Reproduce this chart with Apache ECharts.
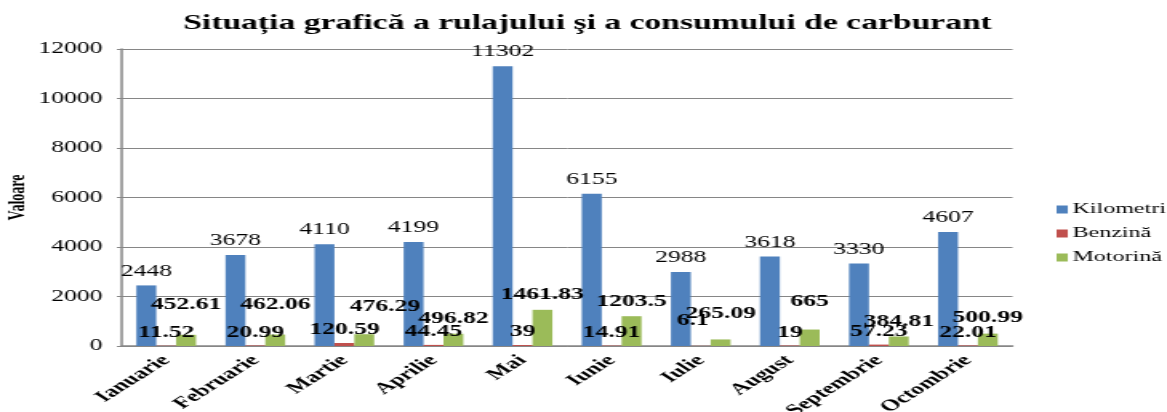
<!DOCTYPE html>
<html>
<head>
<meta charset="utf-8">
<script src="https://cdn.jsdelivr.net/npm/echarts@6/dist/echarts.min.js"></script>
<style>
  html, body { margin: 0; padding: 0; overflow: hidden; background: #fff; }
  /* the reference is a horizontally stretched picture, so the chart is drawn narrow and stretched */
  #chart { width: 729px; height: 412px; transform: scaleX(1.6008); transform-origin: 0 0; }
</style>
</head>
<body>
<div id="chart"></div>
<script>
// date
const months = ["Ianuarie", "Februarie", "Martie", "Aprilie", "Mai", "Iunie", "Iulie", "August", "Septembrie", "Octombrie"];
const kilometri = [2448, 3678, 4110, 4199, 11302, 6155, 2988, 3618, 3330, 4607];
const benzina = [11.52, 20.99, 120.59, 44.45, 39, 14.91, 6.1, 19, 57.23, 22.01];
const motorina = [452.61, 462.06, 476.29, 496.82, 1461.83, 1203.5, 265.09, 665, 384.81, 500.99];
const yMin = 0;
const yMax = 12000;
const yStep = 2000;

// deplasari etichete (mutate manual in original)
const motorinaLabelShift = [[0, -17], [0, -17], [13, -14], [0, -2], [0, -2], [0, -1], [0, -13], [0, -15], [0, -2], [0, -3]];
const benzinaLabelShift = [[0, 0], [0, 0], [0, 0], [0, 0], [0, 0], [0, 0], [-5, -12], [0, 0], [0, 0], [0, 0]];

const serif = "'Liberation Serif', 'DejaVu Serif', serif";

const withShift = (values, shifts) =>
  values.map((v, i) => ({ value: v, label: { offset: shifts[i] } }));

const chart = echarts.init(document.getElementById("chart"));

const option = {
  animation: false,
  color: ["#4F81BD", "#C0504D", "#9BBB59"],
  title: {
    text: "Situația grafică a rulajului şi a consumului de carburant",
    left: 362,
    textAlign: "center",
    top: 8,
    textStyle: {
      fontFamily: serif,
      fontWeight: "bold",
      fontSize: 21,
      color: "#000",
    },
  },
  legend: {
    orient: "vertical",
    left: 655,
    top: 197,
    itemWidth: 7,
    itemHeight: 8,
    itemGap: 9,
    icon: "rect",
    textStyle: {
      fontFamily: serif,
      fontSize: 15,
      color: "#000",
      padding: [0, 0, 0, -2],
    },
    data: ["Kilometri", "Benzină", "Motorină"],
  },
  grid: {
    left: 76,
    right: 96.5,
    top: 49,
    bottom: 66,
    outerBoundsMode: "none",
  },
  xAxis: {
    type: "category",
    data: months,
    axisTick: { show: false },
    axisLine: { lineStyle: { color: "#868686", width: 1.5 } },
    axisLabel: {
      rotate: 45,
      interval: 0,
      margin: 12,
      fontFamily: serif,
      fontWeight: "bold",
      fontSize: 16,
      color: "#000",
    },
  },
  yAxis: {
    type: "value",
    min: yMin,
    max: yMax,
    interval: yStep,
    name: "Valoare",
    nameLocation: "middle",
    nameGap: 58,
    nameMoveOverlap: false,
    nameTextStyle: {
      fontFamily: serif,
      fontWeight: "bold",
      fontSize: 14,
      color: "#000",
    },
    axisLine: { show: true, lineStyle: { color: "#868686", width: 1.5 } },
    axisTick: { show: true, length: 3, lineStyle: { color: "#868686" } },
    axisLabel: {
      margin: 12,
      fontFamily: serif,
      fontSize: 16,
      color: "#000",
      formatter: (v) => String(v),
    },
    splitLine: { lineStyle: { color: "#868686", width: 1 } },
  },
  series: [
    {
      name: "Kilometri",
      type: "bar",
      data: kilometri,
      barGap: "0%",
      barCategoryGap: "33%",
      label: {
        show: true,
        position: "top",
        distance: 6,
        fontFamily: serif,
        fontSize: 16,
        color: "#000",
      },
    },
    {
      name: "Benzină",
      type: "bar",
      data: withShift(benzina, benzinaLabelShift),
      label: {
        show: true,
        position: "top",
        distance: 5,
        fontFamily: serif,
        fontWeight: "bold",
        fontSize: 16,
        color: "#000",
      },
    },
    {
      name: "Motorină",
      type: "bar",
      data: withShift(motorina, motorinaLabelShift),
      label: {
        show: true,
        position: "top",
        distance: 5,
        fontFamily: serif,
        fontWeight: "bold",
        fontSize: 16,
        color: "#000",
      },
    },
  ],
};

chart.setOption(option);
</script>
</body>
</html>
